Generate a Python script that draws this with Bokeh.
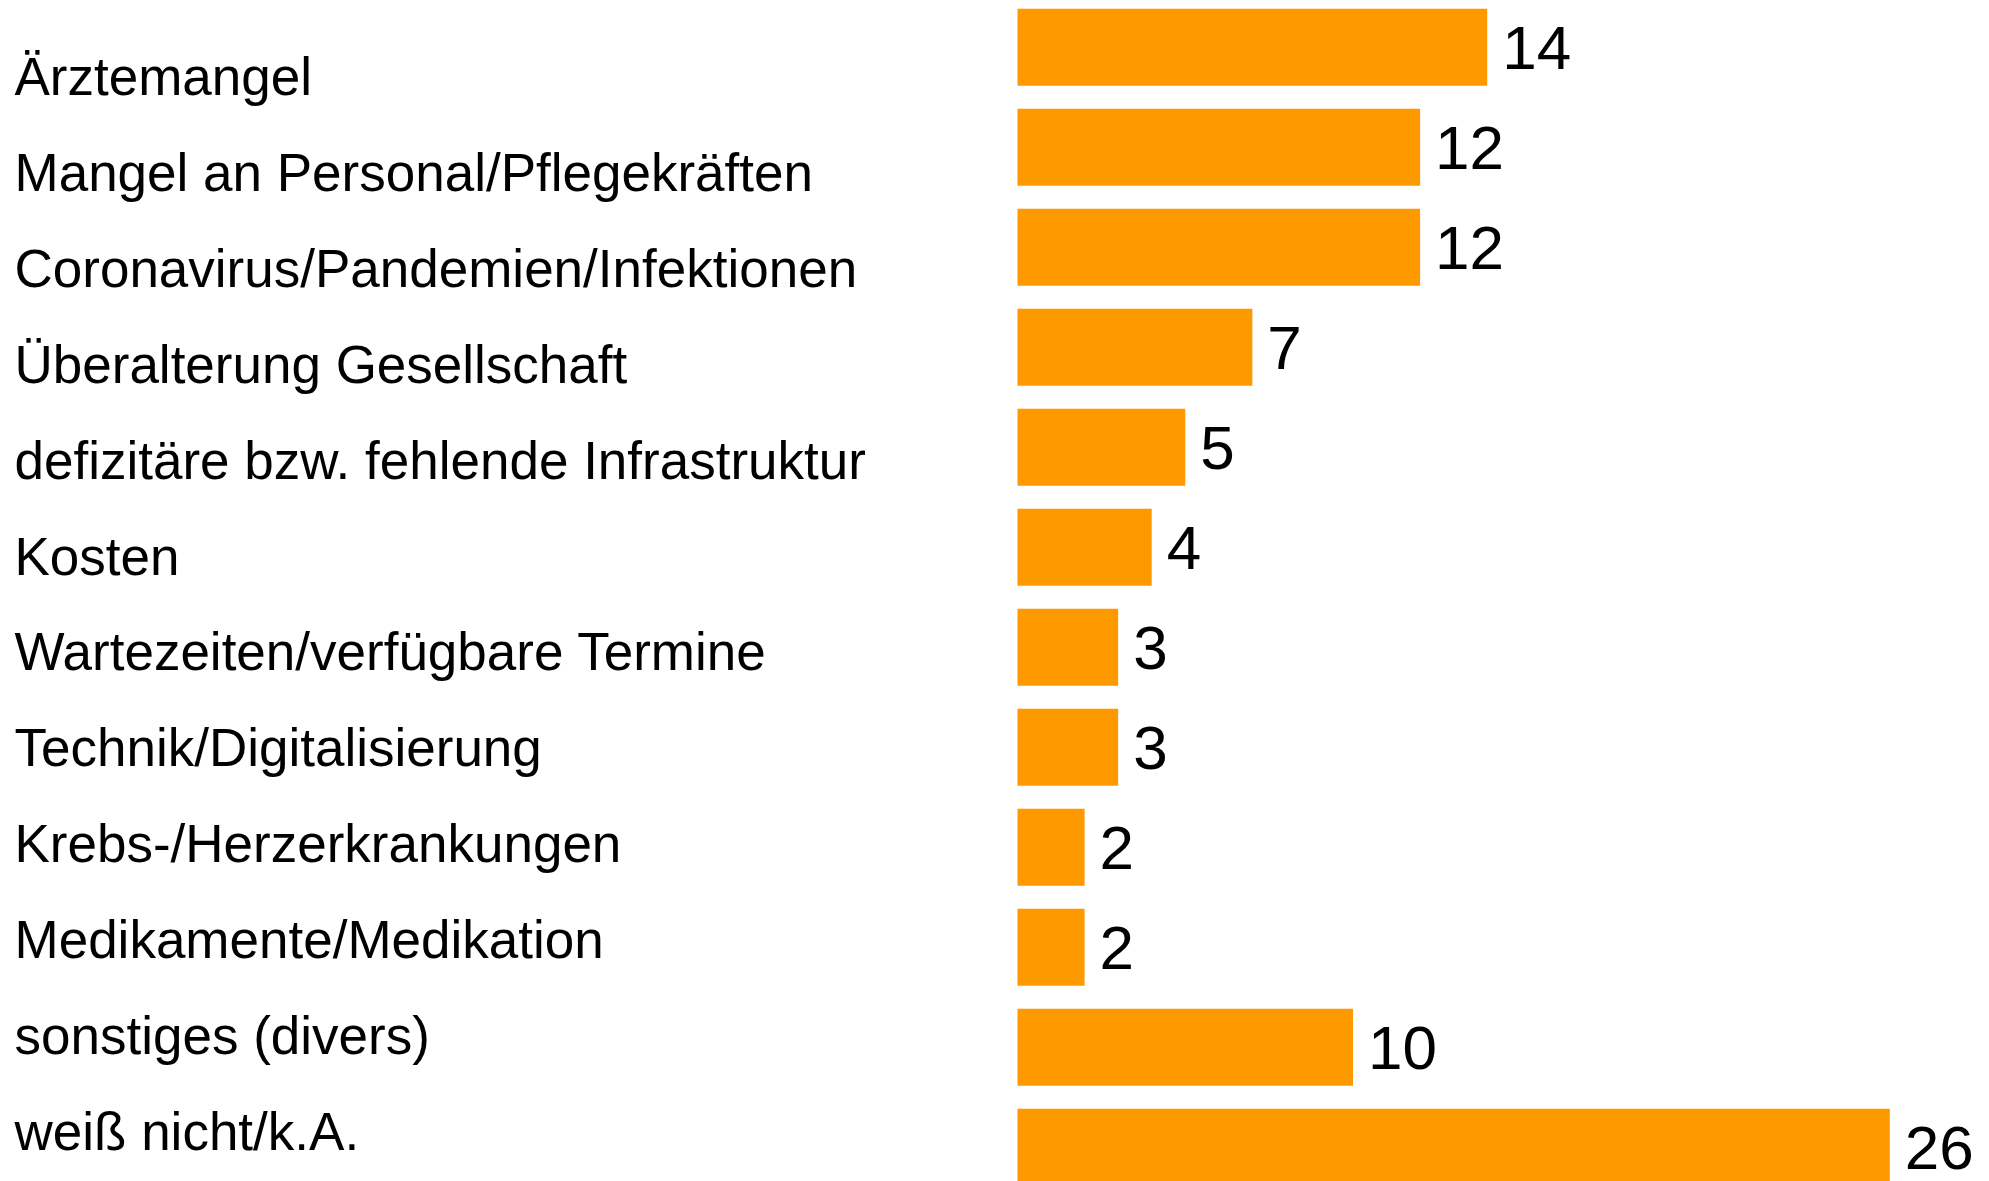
from bokeh.plotting import figure
from bokeh.models import Range1d, ColumnDataSource
from bokeh.core.properties import value
from bokeh.embed import file_html
from bokeh.resources import INLINE

categories = [
    "Ärztemangel",
    "Mangel an Personal/Pflegekräften",
    "Coronavirus/Pandemien/Infektionen",
    "Überalterung Gesellschaft",
    "defizitäre bzw. fehlende Infrastruktur",
    "Kosten",
    "Wartezeiten/verfügbare Termine",
    "Technik/Digitalisierung",
    "Krebs-/Herzerkrankungen",
    "Medikamente/Medikation",
    "sonstiges (divers)",
    "weiß nicht/k.A.",
]
values = [14, 12, 12, 7, 5, 4, 3, 3, 2, 2, 10, 26]

W, H = 1989, 1181
PX_PER_UNIT = 33.55
BAR_X0 = 1017
BAR_PITCH = 100
BAR_C0 = 46.8
LABEL_PITCH = 95.9
LABEL_B0 = 76

n = len(categories)
idx = list(range(n))
src = ColumnDataSource(dict(
    cat=categories, val=values, idx=idx,
    lab=[str(v) for v in values],
))

p = figure(width=W, height=H, output_backend="svg", toolbar_location=None,
           min_border=0, outline_line_color=None,
           x_range=Range1d(-BAR_X0 / PX_PER_UNIT, (W - BAR_X0) / PX_PER_UNIT),
           y_range=Range1d((H - BAR_C0) / BAR_PITCH, -BAR_C0 / BAR_PITCH))
p.extra_y_ranges = {"lab": Range1d((H - LABEL_B0) / LABEL_PITCH, -LABEL_B0 / LABEL_PITCH)}
p.axis.visible = False
p.grid.visible = False
p.background_fill_color = "white"
p.border_fill_color = "white"

p.hbar(y="idx", left=0, right="val", height=0.77, source=src,
       fill_color="#FF9900", line_color=None)

p.text(x="val", y="idx", text="lab", source=src, x_offset=15, y_offset=1,
       text_font=value("Liberation Sans"), text_font_size="62px",
       text_color="black", text_baseline="alphabetic", text_align="left")

p.text(x=-BAR_X0 / PX_PER_UNIT, y="idx", text="cat", source=src, x_offset=14,
       y_range_name="lab",
       text_font=value("Liberation Sans"), text_font_size="53px",
       text_color="black", text_baseline="alphabetic", text_align="left")

open("out.html", "w").write(file_html(p, INLINE))
